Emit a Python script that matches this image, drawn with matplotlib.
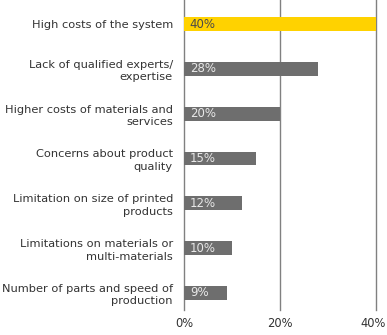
import matplotlib
matplotlib.use("Agg")
import matplotlib.pyplot as plt
from matplotlib.transforms import ScaledTranslation

categories = [
    "High costs of the system",
    "Lack of qualified experts/\nexpertise",
    "Higher costs of materials and\nservices",
    "Concerns about product\nquality",
    "Limitation on size of printed\nproducts",
    "Limitations on materials or\nmulti-materials",
    "Number of parts and speed of\nproduction",
]
values = [40, 28, 20, 15, 12, 10, 9]
xticks = [0, 20, 40]
xtick_labels = ["0%", "20%", "40%"]

fig = plt.figure(figsize=(3.87, 3.35), dpi=100)
ax = fig.add_axes([184/387, 1 - 310/335, (376-184)/387, 310/335])

colors = ["#FFD200"] + ["#6E6E6E"] * (len(values) - 1)
ypos = list(range(len(values)))
ax.barh(ypos, values, height=0.31, color=colors, zorder=3)

for i, v in enumerate(values):
    tc = "#4a4a4a" if i == 0 else "#e8e8e8"
    ax.text(1.2, i, f"{v}%", va="center", ha="left", fontsize=8.5, color=tc, zorder=4)

ax.set_xlim(0, 40)
ax.set_ylim(6.38, -0.536)
ax.set_yticks(ypos)
ax.set_yticklabels(categories, fontsize=8.2, color="#333333", linespacing=1.3)
ax.set_xticks(xticks)
ax.set_xticklabels(xtick_labels, fontsize=8.3, color="#333333")
ax.tick_params(axis="both", length=0)
ax.tick_params(axis="y", pad=8)
ax.tick_params(axis="x", pad=5)
lbl = ax.get_xticklabels()[-1]
lbl.set_transform(lbl.get_transform() + ScaledTranslation(-3/100, 0, fig.dpi_scale_trans))
for s in ax.spines.values():
    s.set_visible(False)
for x in xticks:
    ax.axvline(x, color="#808080", lw=1.0, zorder=1, clip_on=False)
ax.set_facecolor("white")

fig.savefig("out.png", dpi=100)
